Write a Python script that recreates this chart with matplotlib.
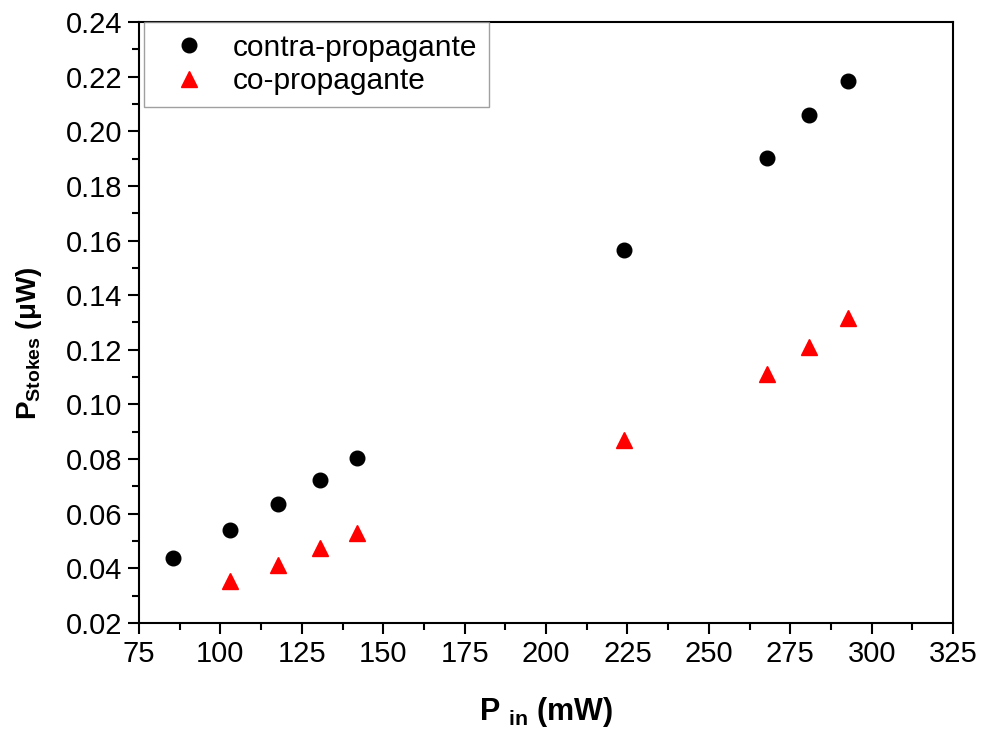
import matplotlib
matplotlib.use('Agg')
import matplotlib.pyplot as plt
from matplotlib.ticker import MultipleLocator, FormatStrFormatter

plt.rcParams['font.family'] = ['Liberation Sans', 'DejaVu Sans']
plt.rcParams['mathtext.fontset'] = 'custom'
plt.rcParams['mathtext.rm'] = 'Liberation Sans'
plt.rcParams['mathtext.bf'] = 'Liberation Sans:bold'

# pump power (mW) and Stokes power (uW)
p_in_contra = [85.4, 103.0, 117.7, 130.6, 142.0, 224.0, 267.9, 280.8, 292.8]
p_stokes_contra = [0.0438, 0.0540, 0.0636, 0.0723, 0.0804, 0.1565, 0.1902, 0.2059, 0.2184]

p_in_co = [103.0, 117.7, 130.6, 142.0, 224.0, 267.9, 280.8, 292.8]
p_stokes_co = [0.0355, 0.0412, 0.0475, 0.0530, 0.0870, 0.1110, 0.1210, 0.1315]

fig = plt.figure(figsize=(9.81, 7.31), dpi=100)
ax = fig.add_axes([0.1417, 0.1478, 0.8298, 0.8221])

ax.plot(p_in_contra, p_stokes_contra, 'o', color='black', markersize=10.5,
        label='contra-propagante')
ax.plot(p_in_co, p_stokes_co, '^', color='red', markersize=11.5,
        label='co-propagante')

ax.set_xlim(75, 325)
ax.set_ylim(0.02, 0.24)
ax.xaxis.set_major_locator(MultipleLocator(25))
ax.xaxis.set_minor_locator(MultipleLocator(12.5))
ax.yaxis.set_major_locator(MultipleLocator(0.02))
ax.yaxis.set_minor_locator(MultipleLocator(0.01))
ax.yaxis.set_major_formatter(FormatStrFormatter('%.2f'))

ax.tick_params(which='both', direction='out', width=1.5, labelsize=21,
               top=False, right=False)
ax.tick_params(which='major', length=8, pad=4)
ax.tick_params(which='minor', length=5)
for s in ax.spines.values():
    s.set_linewidth(1.5)

ax.set_xlabel(r'P $_{\mathbf{in}}$ (mW)', fontsize=22, fontweight='bold',
              labelpad=20)
ax.set_ylabel(r'P$_{\mathbf{Stokes}}$ ($\mathbf{\mu}$W)', fontsize=20,
              fontweight='bold')
ax.yaxis.set_label_coords(-0.117, 0.466)

leg = ax.legend(loc='upper left', bbox_to_anchor=(0.006, 1.0), fontsize=21.5,
                fancybox=False, borderaxespad=0, handletextpad=0.38,
                borderpad=0.4, labelspacing=0.18, handlelength=2.2)
leg.get_frame().set_edgecolor('#888888')
leg.get_frame().set_linewidth(1.0)

fig.savefig('out.png', dpi=100)
